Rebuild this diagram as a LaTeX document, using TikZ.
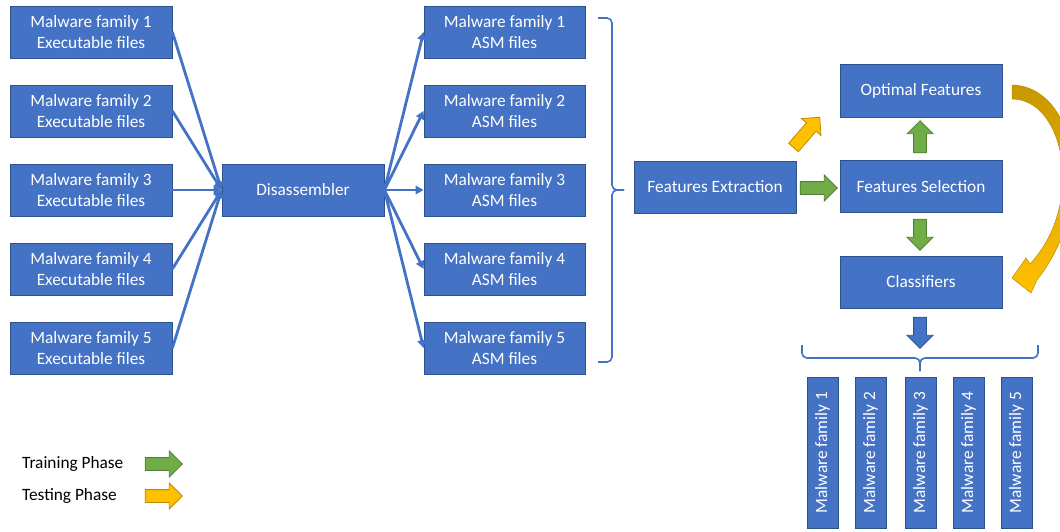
\documentclass[tikz,border=0pt]{standalone}
\usepackage{fontspec}
\setmainfont{Carlito}
\usetikzlibrary{shapes.arrows,arrows.meta}
\definecolor{boxblue}{HTML}{4472C4}
\definecolor{boxedge}{HTML}{2F528F}
\definecolor{tgreen}{HTML}{70AD47}
\definecolor{tgreenedge}{HTML}{507E32}
\definecolor{tyellow}{HTML}{FFC000}
\definecolor{tyellowedge}{HTML}{BC8C00}
\definecolor{tgold}{HTML}{C89800}
\begin{document}
\begin{tikzpicture}[x=1pt,y=-1pt,
 box/.style={draw=boxedge, fill=boxblue, line width=0.8pt, text=white, minimum width=162pt, minimum height=52pt, align=center, inner sep=0pt, font=\fontsize{17.3}{21}\selectfont},
 vbox/.style={box, minimum width=151pt, minimum height=31pt, rotate=90},
 link/.style={draw=boxblue, line width=2.8pt, -{Triangle[length=8pt,width=8.5pt]}},
 blockarrow/.style={single arrow, inner sep=6pt, minimum width=25pt, single arrow head extend=6.5pt, single arrow head indent=0pt, line width=0.8pt, minimum height=#1},
 train/.style={blockarrow=#1, fill=tgreen, draw=tgreenedge},
 test/.style={blockarrow=#1, fill=tyellow, draw=tyellowedge},
 blockblue/.style={blockarrow=#1, fill=boxblue, draw=boxedge},
 brace/.style={draw=boxblue, line width=1.6pt, rounded corners=5pt},
 legend/.style={font=\fontsize{17.3}{21}\selectfont, text=black, anchor=west, inner sep=0pt}]
\useasboundingbox (0,0) rectangle (1060,531);

% left executable boxes
\foreach \i/\y in {1/32,2/111,3/190,4/269,5/348}{
  \node[box] (L\i) at (91,\y) {Malware family \i\\Executable files};
  \node[box, minimum width=161pt] (A\i) at (504.5,\y) {Malware family \i\\ASM files};
}
\node[box] (dis) at (303,190) {Disassembler};
\foreach \i in {1,...,5}{
  \draw[link] (L\i.east) -- (dis.west);
  \draw[link] (dis.east) -- (A\i.west);
}

% brace after ASM files
\draw[brace] (598,18) -- (612,18) -- (612,190) -- (624,190);
\draw[brace] (624,190) -- (612,190) -- (612,362) -- (598,362);

\node[box] (fe) at (715,187) {Features Extraction};
\node[box, minimum height=53pt] (of) at (921,90.5) {Optimal Features};
\node[box] (fs) at (921,186.5) {Features Selection};
\node[box] (cl) at (921,282) {Classifiers};

% block arrows
\node[train=37pt] (gfs) at (815.5,188) {};
\node[train=32pt, rotate=90] (gup) at (920,140) {};
\node[train=31pt, rotate=-90] (gdown) at (920,231.5) {};
\node[test=40pt, rotate=49] (ydiag) at (804.5,134.8) {};
\node[blockblue=31pt, rotate=-90] (bdown) at (920,329.5) {};

% curved testing arrow
\shade[top color=tgold, bottom color=tyellow, draw=tyellowedge, line width=0.5pt]
  (1012,85) .. controls (1075,86) and (1100,200) .. (1037,280)
  -- (1031,293) -- (1012,278) -- (1026,258) -- (1030,264)
  .. controls (1085,205) and (1065,99) .. (1012,99) -- cycle;

% bottom brace
\draw[brace] (802,345) -- (802,358) -- (920,358) -- (920,371);
\draw[brace] (920,371) -- (920,358) -- (1038,358) -- (1038,345);

\foreach \i/\x in {1/822.5,2/870.5,3/920.5,4/968.5,5/1016.5}{
  \node[vbox] (M\i) at (\x,452.5) {Malware family \i};
}

% legend
\node[legend] (tr) at (22,464) {Training Phase};
\node[train=37pt] (tra) at (160.5,464) {};
\node[legend] (te) at (22,496) {Testing Phase};
\node[test=37pt] (tea) at (160.5,496) {};
\end{tikzpicture}
\end{document}
